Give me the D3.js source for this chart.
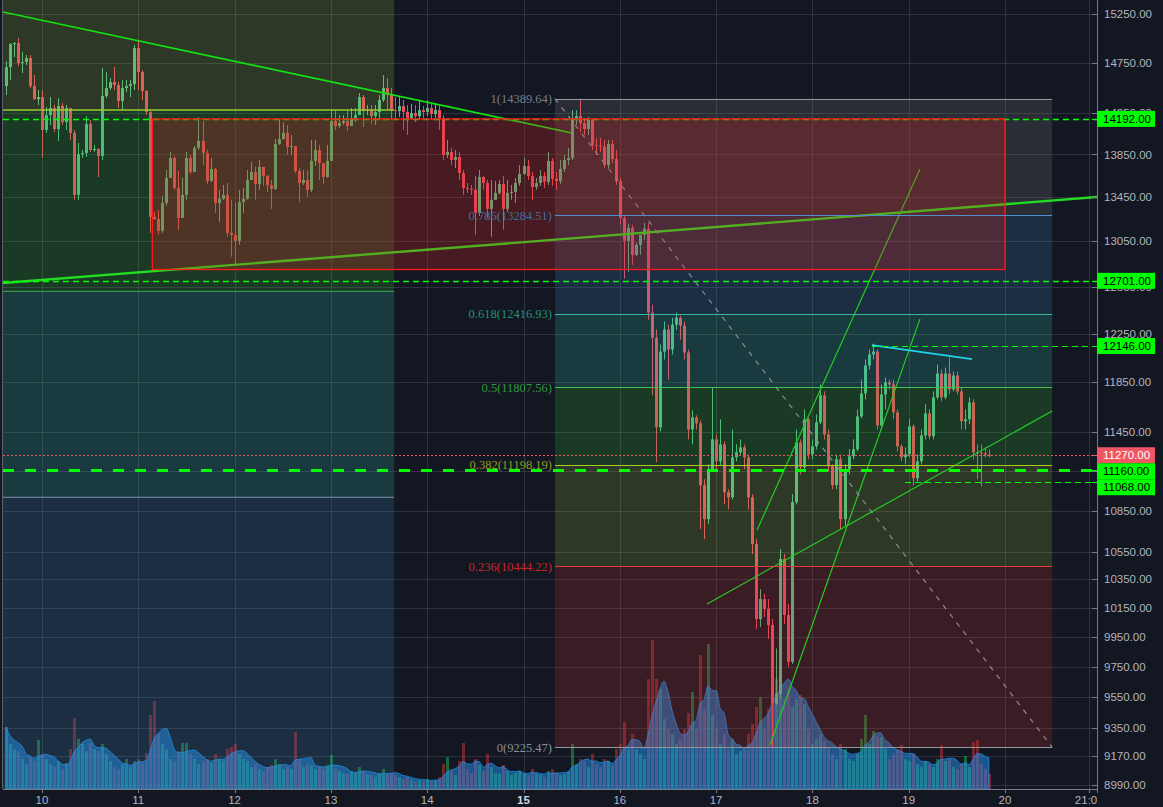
<!DOCTYPE html>
<html>
<head>
<meta charset="utf-8">
<script src="https://cdnjs.cloudflare.com/ajax/libs/d3/7.8.5/d3.min.js"></script>
<style>
body { margin:0; background:#131722; overflow:hidden; }
svg { display:block; }
</style>
</head>
<body>
<svg width="1163" height="807"></svg>
<script>

// hourly BTC candles, Jan 9 15:00 UTC -> Jan 19 20:00 UTC
var startTime = Date.UTC(2018,0,9,15);
var firstOpen = 14515;

var closes = [
14705,14939,14949,14746,14756,14797,14515,14386,14406,14084,
14229,14298,14094,14318,14161,14298,14056,13472,13855,13864,
14142,13893,13903,13836,14416,14495,14555,14525,14367,14495,
14515,14535,14898,14655,14466,14259,13270,13252,13144,13398,
13629,13817,13536,13261,13472,13817,13685,13912,13979,13864,
13601,13713,13398,13435,13472,13126,13108,13054,13407,13435,
13610,13685,13573,13732,13647,13564,13527,13950,13998,14056,
13922,13931,13694,13582,13610,13518,13789,13893,13770,13638,
13789,14171,14123,14152,14171,14123,14200,14229,14406,14268,
14278,14219,14259,14377,14495,14426,14278,14268,14318,14259,
14200,14249,14219,14278,14259,14298,14239,14278,14200,13845,
13874,13798,13826,13675,13536,13530,13520,13307,13638,13582,
13343,13426,13490,13573,13343,13490,13499,13582,13666,13741,
13647,13545,13582,13647,13592,13789,13620,13601,13713,13798,
13817,14200,14219,14152,14094,14181,13941,13935,13925,13751,
13950,13808,13601,13261,13054,13171,12929,13018,13108,13162,
12427,12216,11487,12100,12284,12117,12325,12384,12317,12092,
11471,11566,11519,11041,10787,11162,11393,11223,11354,10988,
10950,11254,11293,11331,11254,10950,10604,10073,10212,10143,
10032,9506,9571,10496,10101,9782,10913,11370,11178,11551,
11277,11339,11527,11742,11432,11185,11041,11239,10787,11162,
11262,11316,11574,11758,11985,12076,12100,11503,11750,11846,
11830,11606,11339,11254,11277,11495,11094,11223,11424,11598,
11417,11726,11919,11726,11919,11790,11903,11774,11535,11551,
11686,11293,11290,11285,11275,11270
];

var highs = [
14766,14949,14960,15001,14857,14827,14827,14625,14475,14475,
14308,14406,14327,14396,14347,14327,14133,14084,13960,13893,
14219,14181,13941,13912,14696,14655,14595,14706,14555,14575,
14575,14575,14929,14981,14675,14475,14278,13315,13334,13463,
13703,13874,13836,13694,13629,13874,13845,13931,14210,14171,
13893,13817,13722,13518,13564,13582,13426,13398,13518,13536,
13703,13779,13732,13798,13703,13657,13610,13998,14190,14161,
14133,14036,13817,13722,13703,13703,13989,13989,13941,13751,
13941,14278,14278,14229,14229,14278,14298,14298,14446,14426,
14327,14327,14327,14426,14625,14595,14495,14406,14406,14377,
14327,14337,14327,14377,14318,14377,14337,14347,14327,14229,
13989,13912,13893,13874,13703,13582,13564,13647,13703,13647,
13610,13610,13601,13610,13647,13610,13564,13629,13751,13817,
13798,13685,13629,13703,13685,13874,13817,13685,13798,13845,
13912,14278,14278,14390,14200,14210,14200,14008,14008,13989,
13989,13989,13893,13629,13288,13207,13198,13036,13099,13216,
13216,12495,12284,12158,12351,12325,12384,12427,12401,12351,
12117,11622,11582,11543,11086,11200,11806,11432,11551,11377,
11010,11471,11354,11393,11354,11277,10973,10640,10282,10247,
10212,10073,9872,10568,10532,10177,10973,11471,11393,11630,
11566,11393,11590,11830,11774,11471,11200,11277,11277,11200,
11316,11393,11630,11870,12034,12117,12166,12117,11830,11887,
11870,11870,11630,11354,11331,11551,11511,11277,11471,11670,
11630,11774,11993,11952,11968,12051,11935,11935,11806,11630,
11726,11710,11354,11354,11331,11316
];

var lows = [
14426,14575,14807,14716,14645,14726,14495,14377,14327,13817,
14056,14133,14065,13979,14133,14084,13989,13426,13426,13817,
13826,13874,13874,13638,13798,14396,14475,14475,14298,14278,
14456,14406,14475,14475,14377,14229,13126,13243,13108,13126,
13371,13629,13518,13153,13261,13426,13666,13703,13893,13751,
13573,13592,13307,13225,13426,13090,12912,12842,13018,13307,
13426,13629,13426,13518,13555,13499,13343,13518,13941,13989,
13845,13845,13675,13407,13564,13453,13499,13741,13610,13573,
13629,13826,14084,14104,14133,14075,14133,14161,14229,14113,
14229,14142,14133,14181,14357,14278,14181,14181,14210,14084,
14036,14181,14161,14181,14200,14219,14181,14200,14084,13798,
13817,13751,13722,13610,13472,13490,13472,13108,13279,13518,
13261,13090,13472,13472,13153,13316,13426,13398,13555,13657,
13610,13426,13518,13555,13536,13564,13555,13518,13573,13685,
13751,13798,14133,14065,14036,14036,13893,13845,13874,13722,
13722,13770,13564,13198,12720,12780,12842,12920,12929,13063,
12367,11742,11216,11456,12034,11870,12076,12284,12200,12034,
11393,11354,11471,10713,10640,10750,11147,11162,11193,10898,
10860,10935,11223,11270,11162,10860,10532,10005,10019,10087,
9937,9226,9499,9538,10039,9749,9768,10898,11124,11162,
11239,11239,11316,11511,11393,11147,11010,11010,10713,10735,
11124,11239,11300,11559,11710,11952,12034,11471,11471,11630,
11790,11551,11300,11223,11200,11254,11041,11071,11200,11393,
11393,11393,11710,11694,11710,11750,11774,11750,11471,11471,
11511,11239,11086,11033,11254,11254
];

var volumes = [
620,450,400,380,300,250,320,280,490,350,300,250,220,280,200,260,400,710,500,450,380,
460,400,380,450,350,280,220,200,250,300,220,280,300,260,360,740,880,550,450,400,
300,280,380,460,460,350,300,250,280,300,260,350,300,280,400,420,450,350,300,280,
220,250,200,180,220,240,300,250,200,220,200,570,300,220,250,240,200,220,200,240,
340,200,180,160,150,180,160,220,180,150,140,120,160,200,150,160,140,120,
100,120,100,80,90,80,100,80,90,120,250,320,180,140,280,460,200,160,300,240,180,350,
220,160,150,240,180,140,160,180,150,140,200,150,140,120,180,200,160,140,150,180,
450,250,300,280,220,350,250,220,300,280,240,400,450,670,400,550,400,350,300,1100,
1490,1100,1000,700,600,550,450,500,600,760,970,600,1340,800,1450,740,600,450,550,400,
500,350,380,400,550,650,820,920,600,800,1200,1100,1300,900,1000,820,900,940,850,600,
450,500,550,480,420,350,300,450,400,300,280,350,500,740,450,580,520,520,400,300,
350,400,440,300,280,350,250,220,280,250,220,300,440,280,300,220,200,250,330,220,470,490,250,200,150
];

var priceTicks = [15250,14750,14250,13850,13450,13050,12650,12250,11850,11450,11150,10850,10550,10350,10150,9950,9750,9550,9350,9170,8990];
var dayTicks = [10,11,12,13,14,15,16,17,18,19,20];

// fib retracement on the right
var fibLevels = ["1","0.786","0.618","0.5","0.382","0.236","0"];
var fibPrices = [14389.64,13284.51,12416.93,11807.56,11198.19,10444.22,9225.47];
var fibLineColors = ["#9598a1","#4f8fcf","#36b89a","#43c04a","#a8cc1c","#e53935","#9598a1"];
var fibTextColors = ["#7b7e87","#3f6fa0","#23917a","#2f9a3c","#8c9a22","#c62828","#8c8f98"];
var fibBandColors = ["rgba(134,133,129,0.2)","rgba(59,138,194,0.2)","rgba(49,198,174,0.2)","rgba(54,198,54,0.2)","rgba(154,188,54,0.2)","rgba(214,48,44,0.2)"];
var fibStart = "2018-01-15T07:50Z", fibEnd = "2018-01-20T11:45Z";

// older fib on the left (levels only)
var leftFibPrices = [15600,14280,12610,10950,8800];
var leftFibBands = ["rgba(154,188,54,0.2)","rgba(54,198,54,0.2)","rgba(49,198,174,0.2)","rgba(59,138,194,0.2)"];
var leftFibLineColors = [null,"#9acd32","#3fa955","#7f98a8",null];
var leftFibStart = "2018-01-09T13:00Z", leftFibEnd = "2018-01-13T15:45Z";

// red rectangle
var boxTop = 14192, boxBottom = 12800;
var boxStart = "2018-01-11T03:30Z", boxEnd = "2018-01-20T00:00Z";

var trendLines = [
  {t1:"2018-01-09T14:17Z", p1:15271, t2:"2018-01-15T12:05Z", p2:14055, color:"#12e312", w:1.6},
  {t1:"2018-01-09T14:17Z", p1:12682, t2:"2018-01-20T23:00Z", p2:13452, color:"#22dd22", w:2.4},
  {t1:"2018-01-17T10:11Z", p1:10706, t2:"2018-01-19T02:49Z", p2:13713, color:"#22cc22", w:1.2},
  {t1:"2018-01-17T13:26Z", p1:9240, t2:"2018-01-19T02:49Z", p2:12374, color:"#22cc22", w:1.2},
  {t1:"2018-01-16T21:44Z", p1:10178, t2:"2018-01-20T11:45Z", p2:11617, color:"#22cc22", w:1.2},
  {t1:"2018-01-18T14:51Z", p1:12154, t2:"2018-01-19T15:46Z", p2:12038, color:"#22d3e6", w:1.8}
];

var hLines = [
  {p:14192, from:null, w:1.5, dash:"6,4"},
  {p:12701, from:null, w:1.5, dash:"6,4"},
  {p:12146, from:"2018-01-18T14:51Z", w:1.2, dash:"6,4"},
  {p:11160, from:null, w:3, dash:"11,11"},
  {p:11068, from:"2018-01-18T23:05Z", w:1.2, dash:"6,4"}
];
var lastPrice = 11270;

var tags = [
  {p:14192, bg:"#00ff00", fg:"#000"},
  {p:12701, bg:"#00ff00", fg:"#000"},
  {p:12146, bg:"#00ff00", fg:"#000"},
  {p:11270, bg:"#ef5563", fg:"#fff"},
  {p:11160, bg:"#00ff00", fg:"#000"},
  {p:11068, bg:"#00ff00", fg:"#000"}
];

var plotL = 3, plotR = 1097, plotB = 789;
var upColor = "#53b987", downColor = "#eb4d5c";

var svg = d3.select("svg");
var x = d3.scaleUtc().domain([new Date(Date.UTC(2018,0,10)), new Date(Date.UTC(2018,0,20))]).range([42,1005]);
var y = d3.scaleLog().domain([15250,8990]).range([14,785]);
var yVol = d3.scaleLinear().domain([0,1500]).range([plotB, plotB-150]);
var fmt = d3.format(".2f");
var T = function(s){ return new Date(s); };

var hour = 3600*1000;
var candles = closes.map(function(c,i){
  var o = i==0 ? firstOpen : closes[i-1];
  return {t:new Date(startTime + i*hour), o:o, c:c,
          h:Math.max(highs[i],o,c), l:Math.min(lows[i],o,c), v:volumes[i]};
});

var defs = svg.append("defs");
defs.append("clipPath").attr("id","plotclip").append("rect")
  .attr("x",plotL).attr("y",0).attr("width",plotR-plotL).attr("height",plotB);

svg.append("rect").attr("width",1163).attr("height",807).attr("fill","#131722");
var plot = svg.append("g").attr("clip-path","url(#plotclip)");

// grid
plot.selectAll(".hg").data(priceTicks).enter().append("line")
  .attr("x1",plotL).attr("x2",plotR)
  .attr("y1",function(d){ return Math.round(y(d))+0.5; })
  .attr("y2",function(d){ return Math.round(y(d))+0.5; })
  .attr("stroke","rgba(120,123,134,0.28)");
var vTicks = dayTicks.map(function(d){ return new Date(Date.UTC(2018,0,d)); });
vTicks.push(new Date(Date.UTC(2018,0,20,21)));
plot.selectAll(".vg").data(vTicks).enter().append("line")
  .attr("y1",0).attr("y2",plotB)
  .attr("x1",function(d){ return Math.round(x(d))+0.5; })
  .attr("x2",function(d){ return Math.round(x(d))+0.5; })
  .attr("stroke","rgba(120,123,134,0.28)");

// volume
plot.selectAll(".vb").data(candles).enter().append("rect")
  .attr("x",function(d){ return Math.round(x(d.t))-1; })
  .attr("width",3)
  .attr("y",function(d){ return yVol(d.v); })
  .attr("height",function(d){ return plotB-yVol(d.v); })
  .attr("fill",function(d){ return d.c>=d.o ? "rgba(38,180,80,0.5)" : "rgba(210,50,60,0.5)"; });

var maLen = 5;
var ma = candles.map(function(d,i){
  var s=0,n=0;
  for(var k=Math.max(0,i-maLen+1);k<=i;k++){ s+=candles[k].v; n++; }
  return {t:d.t, v:s/n};
});
plot.append("path").datum(ma)
  .attr("d", d3.area().x(function(d){ return x(d.t); }).y0(plotB).y1(function(d){ return yVol(d.v); }).curve(d3.curveMonotoneX))
  .attr("fill","rgba(33,150,243,0.5)")
  .attr("stroke","rgba(33,150,243,0.7)").attr("stroke-width",1);

// candles
var cg = plot.append("g");
cg.selectAll("line").data(candles).enter().append("line")
  .attr("x1",function(d){ return Math.round(x(d.t))+0.5; })
  .attr("x2",function(d){ return Math.round(x(d.t))+0.5; })
  .attr("y1",function(d){ return y(d.h); })
  .attr("y2",function(d){ return y(d.l); })
  .attr("stroke",function(d){ return d.c>=d.o ? upColor : downColor; });
cg.selectAll("rect").data(candles).enter().append("rect")
  .attr("x",function(d){ return Math.round(x(d.t))-1; })
  .attr("width",3)
  .attr("y",function(d){ return y(Math.max(d.o,d.c)); })
  .attr("height",function(d){ return Math.max(1, Math.abs(y(d.o)-y(d.c))); })
  .attr("fill",function(d){ return d.c>=d.o ? upColor : downColor; });

// fib bands
function band(t1,t2,p1,p2,color){
  plot.append("rect").attr("x",x(T(t1))).attr("width",x(T(t2))-x(T(t1)))
    .attr("y",y(p1)).attr("height",y(p2)-y(p1)).attr("fill",color);
}
leftFibBands.forEach(function(c,i){ band(leftFibStart,leftFibEnd,leftFibPrices[i],leftFibPrices[i+1],c); });
fibBandColors.forEach(function(c,i){ band(fibStart,fibEnd,fibPrices[i],fibPrices[i+1],c); });

// trend lines
plot.selectAll(".tl").data(trendLines).enter().append("line")
  .attr("x1",function(d){ return x(T(d.t1)); }).attr("y1",function(d){ return y(d.p1); })
  .attr("x2",function(d){ return x(T(d.t2)); }).attr("y2",function(d){ return y(d.p2); })
  .attr("stroke",function(d){ return d.color; })
  .attr("stroke-width",function(d){ return d.w; });

// fib diagonal
plot.append("line")
  .attr("x1",x(T(fibStart))).attr("y1",y(fibPrices[0]))
  .attr("x2",x(T(fibEnd))).attr("y2",y(fibPrices[6]))
  .attr("stroke","#8a8d96").attr("stroke-width",1.2).attr("stroke-dasharray","5,6");

// horizontal dashed levels
hLines.forEach(function(h){
  var x1 = h.from ? x(T(h.from)) : plotL;
  plot.append("line").attr("x1",x1).attr("x2",plotR)
    .attr("y1",Math.round(y(h.p))+0.5).attr("y2",Math.round(y(h.p))+0.5)
    .attr("stroke","#00ff00").attr("stroke-width",h.w).attr("stroke-dasharray",h.dash);
});
plot.append("line").attr("x1",plotL).attr("x2",plotR)
  .attr("y1",Math.round(y(lastPrice))+0.5).attr("y2",Math.round(y(lastPrice))+0.5)
  .attr("stroke","#ef5563").attr("stroke-dasharray","2,2");

// red box
plot.append("rect")
  .attr("x",x(T(boxStart))).attr("width",x(T(boxEnd))-x(T(boxStart)))
  .attr("y",y(boxTop)).attr("height",y(boxBottom)-y(boxTop))
  .attr("fill","rgba(231,35,30,0.25)").attr("stroke","#ff1a1a").attr("stroke-width",1.3);

// fib lines and labels
leftFibLineColors.forEach(function(c,i){
  if(!c) return;
  plot.append("line").attr("x1",x(T(leftFibStart))).attr("x2",x(T(leftFibEnd)))
    .attr("y1",y(leftFibPrices[i])).attr("y2",y(leftFibPrices[i]))
    .attr("stroke",c).attr("stroke-width",i==1 ? 1.5 : 1);
});
fibPrices.forEach(function(p,i){
  plot.append("line").attr("x1",x(T(fibStart))).attr("x2",x(T(fibEnd)))
    .attr("y1",Math.round(y(p))+0.5).attr("y2",Math.round(y(p))+0.5)
    .attr("stroke",fibLineColors[i]).attr("stroke-width",1.2);
  plot.append("text").attr("x",x(T(fibStart))-3).attr("y",y(p)).attr("dy","0.35em")
    .attr("text-anchor","end").attr("font-family","'Liberation Serif', serif").attr("font-size",12.5)
    .attr("fill",fibTextColors[i]).text(fibLevels[i]+"("+fmt(p)+")");
});

// left border
svg.append("line").attr("x1",2.5).attr("x2",2.5).attr("y1",0).attr("y2",plotB).attr("stroke","#5d606b");

// bottom axis
var bAxis = svg.append("g");
bAxis.append("line").attr("x1",plotL).attr("x2",plotR).attr("y1",plotB+0.5).attr("y2",plotB+0.5).attr("stroke","#787b86");
bAxis.selectAll(".bt").data(vTicks).enter().append("line")
  .attr("x1",function(d){ return Math.round(x(d))+0.5; })
  .attr("x2",function(d){ return Math.round(x(d))+0.5; })
  .attr("y1",plotB).attr("y2",plotB+4).attr("stroke","#787b86");
bAxis.selectAll(".bl").data(vTicks).enter().append("text")
  .attr("x",function(d){ return x(d); }).attr("y",804)
  .attr("text-anchor","middle").attr("font-family","'Liberation Sans', Arial, sans-serif").attr("font-size",11.5)
  .attr("font-weight",function(d){ return d.getUTCDate()==15 && d.getUTCHours()==0 ? "bold" : "normal"; })
  .attr("fill",function(d){ return d.getUTCDate()==15 ? "#d1d4dc" : "#b2b5be"; })
  .text(function(d){ return d.getUTCHours() ? d3.utcFormat("%H:%M")(d) : d.getUTCDate(); });

// price axis
var pAxis = svg.append("g");
pAxis.append("rect").attr("x",plotR).attr("y",0).attr("width",1163-plotR).attr("height",807).attr("fill","#131722");
pAxis.append("line").attr("x1",plotR+0.5).attr("x2",plotR+0.5).attr("y1",0).attr("y2",plotB+4).attr("stroke","#787b86");
pAxis.selectAll(".pt").data(priceTicks).enter().append("line")
  .attr("x1",plotR-5).attr("x2",plotR)
  .attr("y1",function(d){ return Math.round(y(d))+0.5; })
  .attr("y2",function(d){ return Math.round(y(d))+0.5; })
  .attr("stroke","#787b86");
pAxis.selectAll(".pl").data(priceTicks).enter().append("text")
  .attr("x",plotR+7).attr("y",function(d){ return y(d); }).attr("dy","0.35em")
  .attr("font-family","'Liberation Sans', Arial, sans-serif").attr("font-size",11.5)
  .attr("fill","#b2b5be").text(function(d){ return fmt(d); });

// price tags, pushed apart so they do not overlap
var lastY = -100;
tags.map(function(t){ return {t:t, yy:y(t.p)}; })
  .sort(function(a,b){ return a.yy-b.yy; })
  .forEach(function(o){
    var cy = Math.max(o.yy, lastY+16);
    lastY = cy;
    pAxis.append("line").attr("x1",plotR-5).attr("x2",plotR)
      .attr("y1",Math.round(o.yy)+0.5).attr("y2",Math.round(o.yy)+0.5).attr("stroke",o.t.bg);
    pAxis.append("rect").attr("x",plotR).attr("y",cy-8).attr("width",58).attr("height",16).attr("fill",o.t.bg);
    pAxis.append("text").attr("x",plotR+6).attr("y",cy).attr("dy","0.35em")
      .attr("font-family","'Liberation Sans', Arial, sans-serif").attr("font-size",11.5)
      .attr("fill",o.t.fg).text(fmt(o.t.p));
  });

</script>
</body>
</html>
